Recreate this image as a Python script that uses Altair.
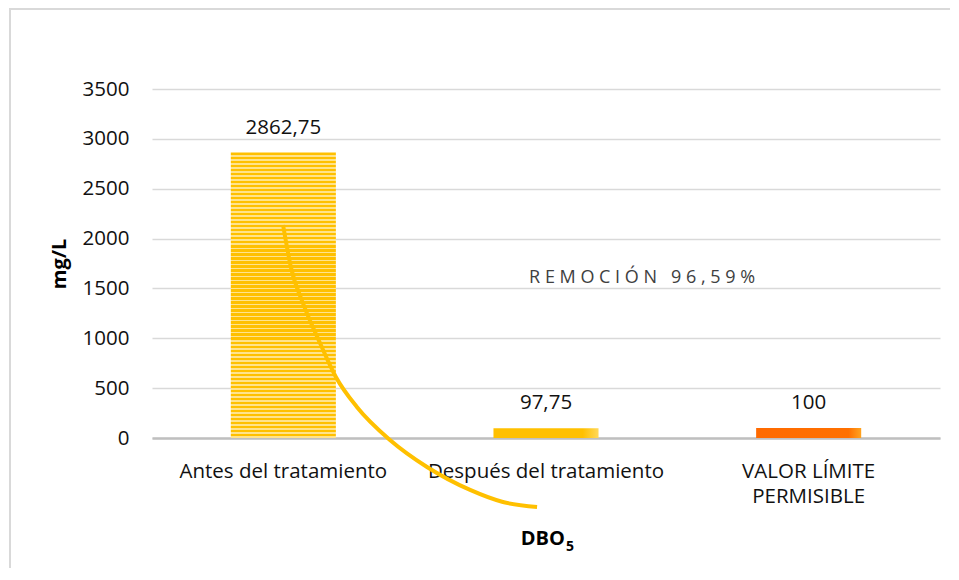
import altair as alt
import pandas as pd

# ---- data ----
categories = ["Antes del tratamiento", "Después del tratamiento", "VALOR LÍMITE PERMISIBLE"]
values = [2862.75, 97.75, 100]
value_labels = ["2862,75", "97,75", "100"]

# decorative curve (x in category-step units, y in mg/L)
curve_x = [0.499, 0.530, 0.575, 0.640, 0.700, 0.780, 0.906, 1.047, 1.211, 1.336, 1.466]
curve_y = [2136, 1700, 1350, 950, 612, 311, -20, -291, -521, -642, -692]

NB = "\u00a0"
note_text = [NB.join("REMOCIÓN") + NB * 3 + NB.join("96,59%")]
note_x = [1.866]
note_y = [1600]

W, H = 788, 349
FONT = "Open Sans"
FS = 20.5

df = pd.DataFrame({"cat": categories, "val": values, "lab": value_labels})
curve = pd.DataFrame({"x": curve_x, "y": curve_y, "o": list(range(len(curve_x)))})
note = pd.DataFrame({"x": note_x, "y": note_y, "t": note_text})

# horizontal stripe gradient for the first bar
n = 71
stops = []
for i in range(n):
    a, b, c = i / n, (i + 0.62) / n, (i + 1) / n
    stops += [{"offset": a, "color": "#FFC000"}, {"offset": b, "color": "#FFC000"},
              {"offset": b, "color": "#FFE38C"}, {"offset": c, "color": "#FFE38C"}]
stripes = {"gradient": "linear", "x1": 0, "x2": 0, "y1": 0, "y2": 1, "stops": stops}
yellow = {"gradient": "linear", "x1": 0, "x2": 1, "y1": 0, "y2": 0,
          "stops": [{"offset": 0, "color": "#FFC000"}, {"offset": 0.85, "color": "#FFC000"},
                    {"offset": 1, "color": "#FFD85A"}]}
orange = {"gradient": "linear", "x1": 0, "x2": 1, "y1": 0, "y2": 0,
          "stops": [{"offset": 0, "color": "#FF6A00"}, {"offset": 0.88, "color": "#FF7000"},
                    {"offset": 1, "color": "#FFA320"}]}

yscale = alt.Scale(domain=[0, 3500], nice=False)
xband = alt.Scale(paddingInner=0.6, paddingOuter=0.3)

x_enc = alt.X("cat:N", sort=categories, scale=xband, title=None,
              axis=alt.Axis(labelAngle=0, ticks=False, labelPadding=23, labelLimit=0,
                            domainColor="#BFBFBF", domainWidth=2.5,
                            labelFont=FONT, labelFontSize=FS, labelColor="#111111",
                            labelLineHeight=25,
                            labelExpr="datum.value == 'VALOR LÍMITE PERMISIBLE' ? ['VALOR LÍMITE', 'PERMISIBLE'] : datum.value"))

bars = alt.Chart(df).mark_bar().encode(
    x=x_enc,
    y=alt.Y("val:Q", scale=yscale, title="mg/L",
            axis=alt.Axis(values=[0, 500, 1000, 1500, 2000, 2500, 3000, 3500], format="d",
                          domain=False, ticks=False, labelPadding=23,
                          gridColor="#D9D9D9", gridWidth=1.3,
                          labelFont=FONT, labelFontSize=FS, labelColor="#111111",
                          titleFont=FONT, titleFontSize=20, titleFontWeight="bold",
                          titleColor="#000000", titlePadding=13)),
    fill=alt.when(alt.datum.cat == categories[0]).then(alt.value(stripes))
        .when(alt.datum.cat == categories[1]).then(alt.value(yellow))
        .otherwise(alt.value(orange)),
)

labels = alt.Chart(df).mark_text(font=FONT, fontSize=FS, color="#111111",
                                 baseline="middle", dy=-25).encode(
    x=alt.X("cat:N", sort=categories, scale=xband, axis=None),
    y=alt.Y("val:Q", scale=yscale),
    text="lab:N",
)

xc = alt.Scale(domain=[0, 3], nice=False, zero=False)

line = alt.Chart(curve).mark_line(color="#FFC000", strokeWidth=4,
                                  interpolate="monotone", clip=False).encode(
    x=alt.X("x:Q", scale=xc, axis=None),
    y=alt.Y("y:Q", scale=yscale),
    order="o:Q",
)

note_layer = alt.Chart(note).mark_text(font=FONT, fontSize=18, color="#404040",
                                       baseline="middle").encode(
    x=alt.X("x:Q", scale=xc, axis=None),
    y=alt.Y("y:Q", scale=yscale),
    text="t:N",
)

title_df = pd.DataFrame({"x": [1.572], "t": ["DBO"], "s": ["5"]})
title_main = alt.Chart(title_df).mark_text(font=FONT, fontSize=20, fontWeight="bold",
                                           color="#000000", align="right",
                                           baseline="middle").encode(
    x=alt.X("x:Q", scale=xc, axis=None),
    y=alt.value(H + 101),
    text="t:N",
)
title_sub = alt.Chart(title_df).mark_text(font=FONT, fontSize=14, fontWeight="bold",
                                          color="#000000", align="left",
                                          baseline="middle", dx=1).encode(
    x=alt.X("x:Q", scale=xc, axis=None),
    y=alt.value(H + 109),
    text="s:N",
)

frame = alt.Chart(pd.DataFrame({"a": [0]})).mark_rect(
    fill="transparent", stroke="#D9D9D9", strokeWidth=2, clip=False).encode(
    x=alt.value(-142), x2=alt.value(W + 40),
    y=alt.value(-80), y2=alt.value(H + 300),
)

chart = alt.layer(frame, bars, labels, line, note_layer, title_main, title_sub).resolve_scale(
    x="independent"
).properties(
    width=W, height=H,
    autosize=alt.AutoSizeParams(type="none"),
    padding={"left": 144, "top": 81, "right": 10, "bottom": 130},
).configure_view(stroke=None)

chart.save("out.html", embed_options={"renderer": "svg", "actions": False})
